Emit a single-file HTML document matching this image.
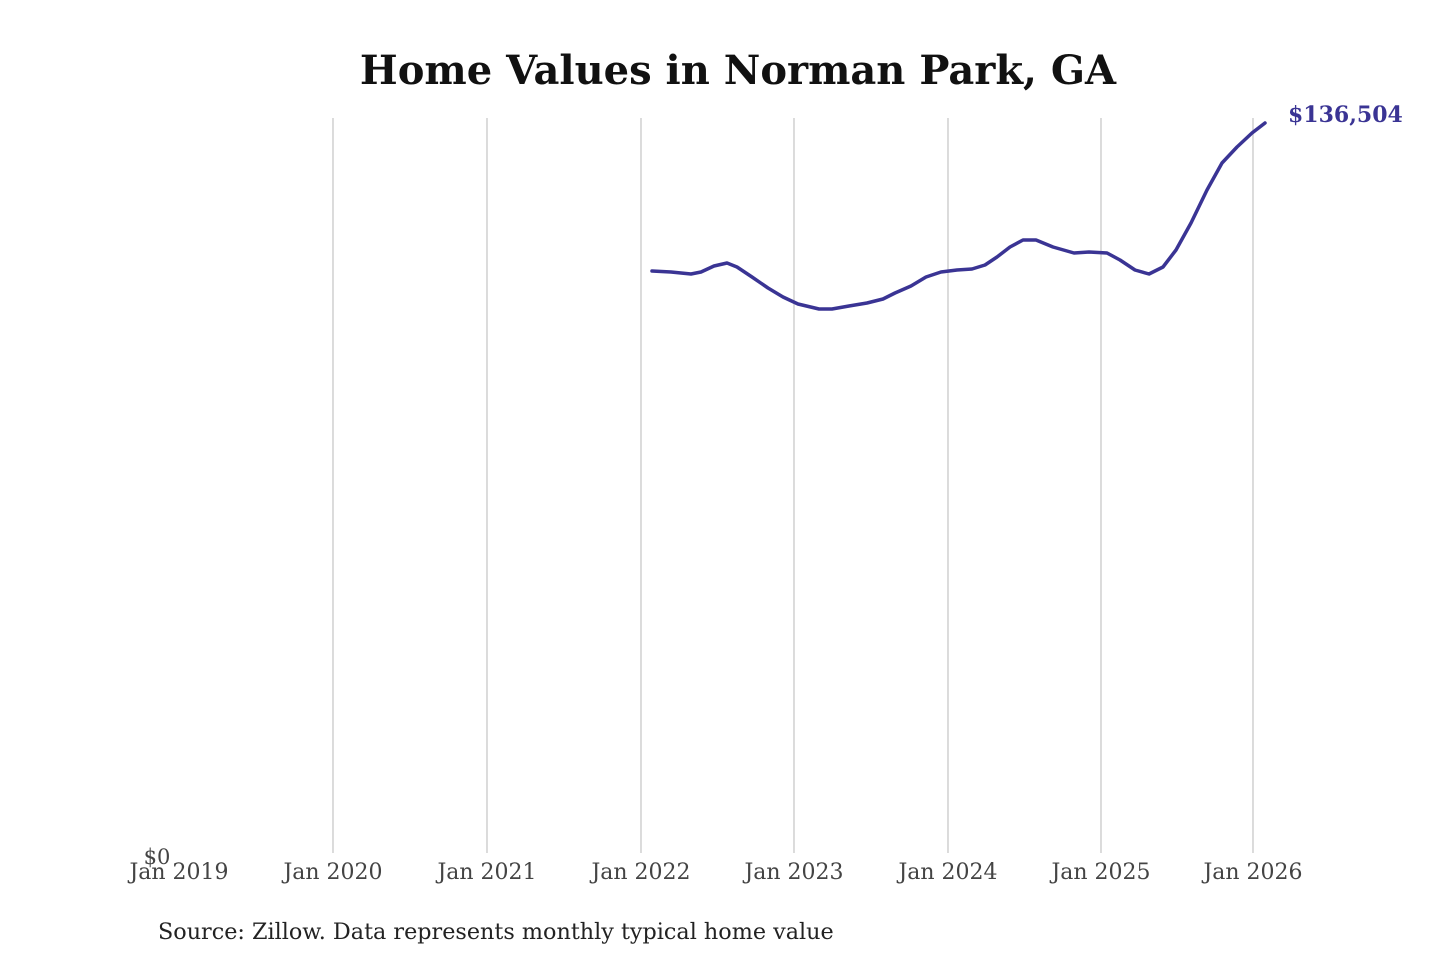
<!DOCTYPE html>
<html><head><meta charset="utf-8"><style>
html,body{margin:0;padding:0;background:#fff;}
</style></head><body>
<svg width="1440" height="960" xmlns="http://www.w3.org/2000/svg" style="display:block">
<rect width="1440" height="960" fill="#fff"/>
<text x="738" y="84" text-anchor="middle" font-family="'DejaVu Serif','Liberation Serif',serif" font-weight="bold" font-size="40" fill="#111">Home Values in Norman Park, GA</text>
<g stroke="#c8c8c8" stroke-width="1.3">
<line x1="333" y1="118" x2="333" y2="853"/>
<line x1="487" y1="118" x2="487" y2="853"/>
<line x1="641" y1="118" x2="641" y2="853"/>
<line x1="794" y1="118" x2="794" y2="853"/>
<line x1="948" y1="118" x2="948" y2="853"/>
<line x1="1101" y1="118" x2="1101" y2="853"/>
<line x1="1253" y1="118" x2="1253" y2="853"/>
</g>
<g font-family="'DejaVu Serif','Liberation Serif',serif" font-size="22" fill="#444" text-anchor="middle">
<text x="179" y="879">Jan 2019</text>
<text x="333" y="879">Jan 2020</text>
<text x="487" y="879">Jan 2021</text>
<text x="641" y="879">Jan 2022</text>
<text x="794" y="879">Jan 2023</text>
<text x="948" y="879">Jan 2024</text>
<text x="1101" y="879">Jan 2025</text>
<text x="1253" y="879">Jan 2026</text>
<text x="157" y="864" font-size="21">$0</text>
</g>
<polyline fill="none" stroke="#3a3494" stroke-width="3.5" stroke-linejoin="round" stroke-linecap="round" points="652,271 671,272 691,274 701,272 714,266 727,263 737,267 752,277 768,288 783,297 798,304 819,309 832,309 849,306 867,303 883,299 895,293 911,286 926,277 941,272 957,270 972,269 985,265 997,257 1010,247 1023,240 1036,240 1053,247 1074,253 1089,252 1107,253 1120,260 1135,270 1149,274 1163,267 1176,250 1191,223 1207,190 1222,163 1237,147 1252,133 1265,123"/>
<text x="1288" y="122" font-family="'DejaVu Serif','Liberation Serif',serif" font-weight="bold" font-size="22" fill="#3a3494">$136,504</text>
<text x="158" y="939" font-family="'DejaVu Serif','Liberation Serif',serif" font-size="22.3" fill="#222">Source: Zillow. Data represents monthly typical home value</text>
</svg>
</body></html>
